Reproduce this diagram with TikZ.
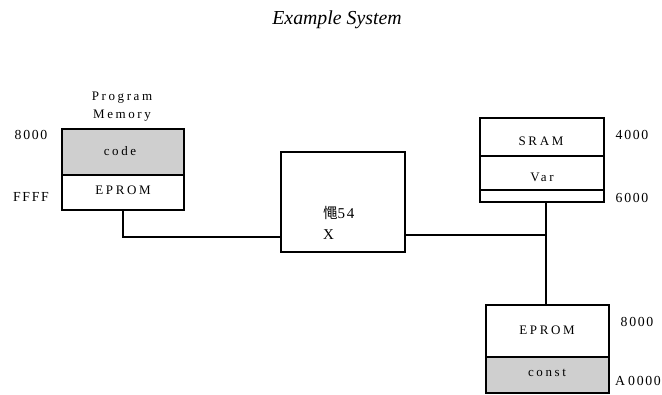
\documentclass[tikz,border=0pt]{standalone}
\usepackage{fontspec}
\setmainfont{Liberation Serif}
\newfontfamily\spaced[LetterSpace=20]{Liberation Serif}
\newfontfamily\spacedd[LetterSpace=12]{Liberation Serif}
\newfontfamily\cjk{Noto Sans CJK TC}
\tikzset{
  box/.style={draw=black, line width=1.3pt, rectangle, inner sep=0pt},
  graybox/.style={box, fill=black!19},
  txt/.style={inner sep=0pt, font=\spaced\fontsize{13}{15}\selectfont},
  lbl/.style={inner sep=0pt, font=\spacedd\fontsize{13.8}{16}\selectfont},
  wire/.style={draw=black, line width=1.3pt}
}
\begin{document}
\begin{tikzpicture}[x=1pt,y=-1pt]
\useasboundingbox (0,0) rectangle (662,395);
% title
\node[inner sep=0pt, font=\itshape\fontsize{19.8}{22}\selectfont] (title) at (337,20) {Example System};
% left memory
\node[txt, align=center, font=\spaced\fontsize{13}{18}\selectfont] (pm) at (122,107) {Program\\Memory};
\node[graybox, minimum width=122pt, minimum height=46pt] (code) at (123,152) {};
\node[box, minimum width=122pt, minimum height=35pt] (eprom) at (123,192.5) {};
\node[txt] (tcode) at (120,151) {code};
\node[txt] (teprom) at (123,190) {EPROM};
\node[lbl] (a8000) at (31,135) {8000};
\node[lbl] (affff) at (31,197) {FFFF};
% middle CPU
\node[box, minimum width=124pt, minimum height=100pt] (cpu) at (343,202) {};
\node[inner sep=0pt, anchor=base west, font=\spacedd\fontsize{15}{17}\selectfont] (t54) at (323,219) {{\cjk\fontsize{14.5}{16}\selectfont 憴}54};
\node[inner sep=0pt, anchor=base west, font=\fontsize{15}{17}\selectfont] (tx) at (323,240) {X};
% right top
\node[box, minimum width=124pt, minimum height=38pt] (sram) at (542,137) {};
\node[box, minimum width=124pt, minimum height=34pt] (var) at (542,173) {};
\node[box, minimum width=124pt, minimum height=12pt] (blank) at (542,196) {};
\node[txt] (tsram) at (541,141) {SRAM};
\node[txt] (tvar) at (542,177) {Var};
\node[lbl] (a4000) at (632,135) {4000};
\node[lbl] (a6000) at (632,198) {6000};
% right bottom
\node[box, minimum width=123pt, minimum height=52pt] (eprom2) at (547.5,331) {};
\node[graybox, minimum width=123pt, minimum height=36pt] (const) at (547.5,375) {};
\node[txt] (teprom2) at (547,330) {EPROM};
\node[txt] (tconst) at (547,373) {const};
\node[lbl] (a8000b) at (637,322) {8000};
\node[lbl] (aa0000) at (638,381) {A\hspace{3pt}0000};
% connectors
\coordinate (cpuL) at (281,237);
\coordinate (bus) at (546,235);
\draw[wire] (eprom.south) |- (cpuL);
\draw[wire] (cpu.east |- bus) -- (bus);
\draw[wire] (bus |- blank.south) -- (bus |- eprom2.north);
\end{tikzpicture}
\end{document}
